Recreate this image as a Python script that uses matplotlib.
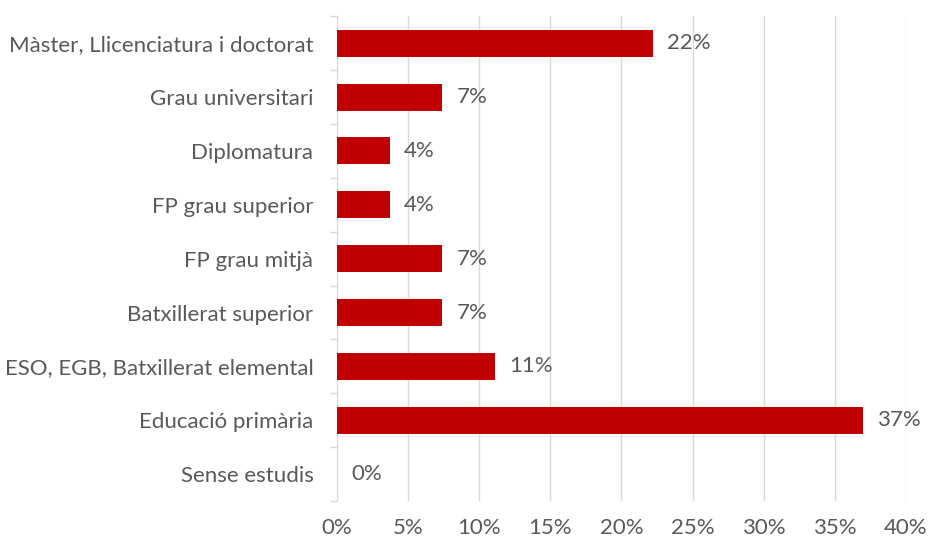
import matplotlib
matplotlib.use('Agg')
from matplotlib import pyplot as plt
from matplotlib.ticker import FuncFormatter

categories = ['Màster, Llicenciatura i doctorat', 'Grau universitari', 'Diplomatura',
              'FP grau superior', 'FP grau mitjà', 'Batxillerat superior',
              'ESO, EGB, Batxillerat elemental', 'Educació primària', 'Sense estudis']
values = [22.2, 7.4, 3.7, 3.7, 7.4, 7.4, 11.1, 37.0, 0.0]
labels = ['22%', '7%', '4%', '4%', '7%', '7%', '11%', '37%', '0%']
xticks = [0, 5, 10, 15, 20, 25, 30, 35, 40]

text_color = '#595959'
fs = 16
plt.rcParams['font.family'] = ['Lato', 'DejaVu Sans']

fig = plt.figure(figsize=(9.3, 5.42), dpi=100)
ax = fig.add_axes([0.3624, 0.0756, 0.6116, 0.8944])

pos = list(range(len(categories)))
ax.barh(pos, values, height=0.5, color='#C00000', zorder=3)
for p, v, lab in zip(pos, values, labels):
    ax.text(v + 1.0, p, lab, va='center', ha='left', fontsize=fs, color=text_color)

ax.set_ylim(len(categories) - 0.5, -0.5)
ax.set_xlim(0, 40)
ax.set_xticks(xticks)
ax.xaxis.set_major_formatter(FuncFormatter(lambda x, _: f'{int(x)}%'))
ax.set_yticks(pos)
ax.set_yticklabels(categories)

# tick marks between categories on the y axis
ax.set_yticks([p + 0.5 for p in range(-1, len(categories))], minor=True)
ax.tick_params(axis='y', which='major', length=0, pad=17, labelsize=fs, labelcolor=text_color)
ax.tick_params(axis='y', which='minor', length=5, color='#d9d9d9', width=1)
ax.tick_params(axis='x', length=0, pad=12, labelsize=fs, labelcolor=text_color)

ax.grid(axis='x', color='#d9d9d9', linewidth=1, zorder=0)
for s in ['top', 'right', 'bottom']:
    ax.spines[s].set_visible(False)
ax.spines['left'].set_color('#d9d9d9')

fig.savefig('out.png', dpi=100)
